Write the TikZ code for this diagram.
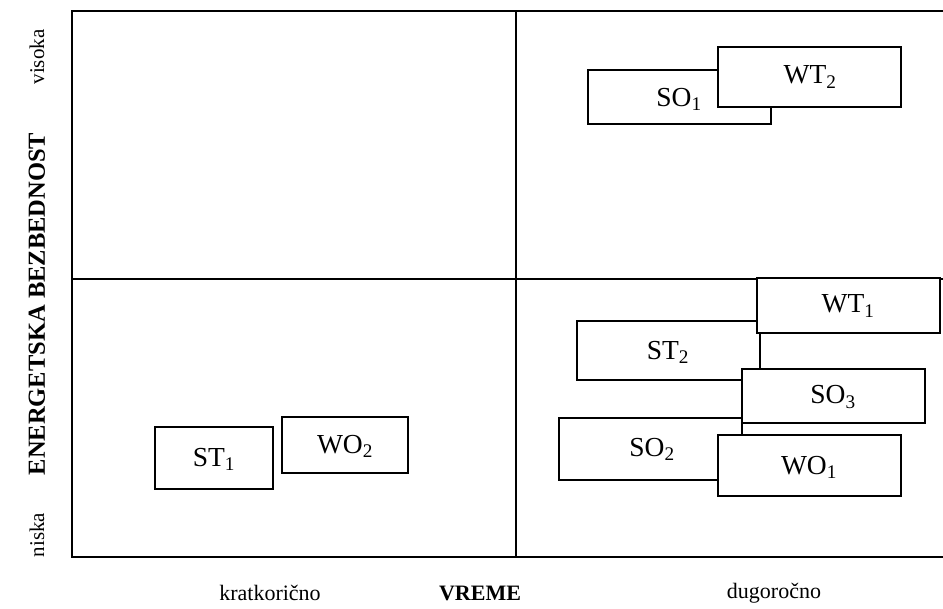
\documentclass[tikz,border=0pt]{standalone}
\usepackage{fontspec}
\setmainfont{Liberation Serif}
\begin{document}
\begin{tikzpicture}[x=1pt,y=-1pt,
  frame/.style={line width=1.4pt},
  sbox/.style={draw, line width=1.4pt, fill=white},
  btext/.style={font=\fontsize{27.5}{30}\selectfont, inner sep=0pt},
  lab/.style={font=\fontsize{22}{25}\selectfont, inner sep=0pt},
  vlab/.style={font=\fontsize{21}{24}\selectfont, inner sep=0pt, rotate=90}]
\useasboundingbox (0,0) rectangle (943,609);
% frame
\coordinate (tl) at (72,11);
\coordinate (tr) at (943,11);
\coordinate (bl) at (72,557);
\coordinate (br) at (943,557);
\coordinate (ml) at (72,279);
\coordinate (mr) at (943,279);
\coordinate (mt) at (516,11);
\coordinate (mb) at (516,557);
\draw[frame] (tr) -- (tl) -- (bl) -- (br);
\draw[frame] (ml) -- (mr);
\draw[frame] (mt) -- (mb);
% top-right quadrant
\draw[sbox] (588,70) rectangle (771,124);
\node[btext] (so1) at (679,99) {SO\textsubscript{1}};
\draw[sbox] (718,47) rectangle (901,107);
\node[btext] (wt2) at (810,77) {WT\textsubscript{2}};
% bottom-right quadrant
\draw[sbox] (577,321) rectangle (760,380);
\node[btext] (st2) at (668,352) {ST\textsubscript{2}};
\draw[sbox] (757,278) rectangle (940,333);
\node[btext] (wt1) at (848,306) {WT\textsubscript{1}};
\draw[sbox] (559,418) rectangle (742,480);
\node[btext] (so2) at (652,449) {SO\textsubscript{2}};
\draw[sbox] (742,369) rectangle (925,423);
\node[btext] (so3) at (833,397) {SO\textsubscript{3}};
\draw[sbox] (718,435) rectangle (901,496);
\node[btext] (wo1) at (809,467) {WO\textsubscript{1}};
% bottom-left quadrant
\draw[sbox] (155,427) rectangle (273,489);
\node[btext] (st1) at (214,459) {ST\textsubscript{1}};
\draw[sbox] (282,417) rectangle (408,473);
\node[btext] (wo2) at (345,446) {WO\textsubscript{2}};
% axis labels
\node[lab] (kr) at (270,593) {kratkorično};
\node[lab, font=\fontsize{22}{25}\selectfont\bfseries] (vr) at (480,593) {VREME};
\node[lab] (du) at (774,593) {dugoročno};
\node[vlab] (vi) at (37,57) {visoka};
\node[vlab, font=\fontsize{24.5}{27}\selectfont\bfseries] (eb) at (37,304) {ENERGETSKA BEZBEDNOST};
\node[vlab] (ni) at (37,535) {niska};
\end{tikzpicture}
\end{document}
